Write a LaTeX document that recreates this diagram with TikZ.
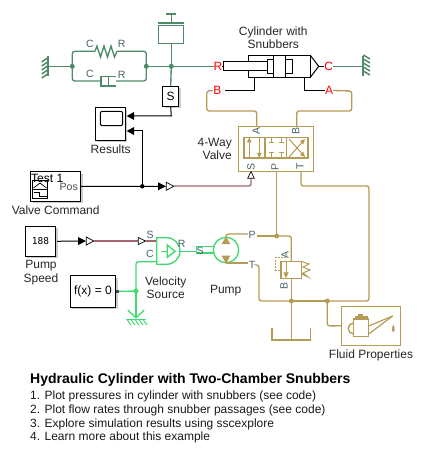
\documentclass[tikz,border=0pt]{standalone}
\usepackage{fontspec}
\setmainfont{Liberation Sans}
\setmonofont{DejaVu Sans Mono}
\usetikzlibrary{shadows,arrows.meta}
\definecolor{mechgreen}{HTML}{4F8A69}
\definecolor{oiltan}{HTML}{B59C55}
\definecolor{rotgreen}{HTML}{3FDB70}
\definecolor{physred}{HTML}{A5656F}
\definecolor{porttext}{HTML}{46626A}
\tikzset{
  block/.style={draw=black, fill=white, line width=1pt, inner sep=0pt, drop shadow={shadow xshift=1.8pt, shadow yshift=-1.8pt, opacity=0.4}},
  caption/.style={font=\fontsize{12}{13.4}\selectfont, align=center, text=black!85, inner sep=0pt},
  portlabel/.style={font=\fontsize{10.5}{12}\selectfont, text=porttext, inner sep=0pt},
  redlabel/.style={font=\fontsize{12}{14}\selectfont, text=red, inner sep=0pt},
  mech/.style={draw=mechgreen, line width=1.35pt, rounded corners=2.5pt},
  oil/.style={draw=oiltan, line width=1.35pt, rounded corners=2.5pt},
  rot/.style={draw=rotgreen, line width=1.35pt, rounded corners=2.5pt},
  phys/.style={draw=physred, line width=1.3pt, rounded corners=2pt},
  signal/.style={draw=black, line width=1pt},
  listline/.style={font=\fontsize{12}{13}\selectfont, anchor=west, inner sep=0pt, text=black!90},
}
\begin{document}
\begin{tikzpicture}[x=1pt, y=-1pt]
    \useasboundingbox (0,0) rectangle (424,457);

    % Junctions
    \coordinate (jspringl) at (72.3,66.3);
    \coordinate (jspringr) at (146.3,66.3);
    \coordinate (jmass) at (171.3,66.3);
    \coordinate (jpos) at (142.3,186.3);
    \coordinate (jpress) at (276.7,236);
    \coordinate (jtank) at (291.3,301);
    \coordinate (jfluid) at (327.3,301);
    \coordinate (jref) at (136,291);
    \coordinate (wallleft) at (47.7,66.3);
    \coordinate (wallright) at (363.3,66.3);

    % Blocks
    \node[block, minimum width=16, minimum height=20, font=\fontsize{12}{14}\selectfont] (sensor) at (170.7,96.3) {S};
    \node[block, minimum width=30, minimum height=32.7] (results) at (110.3,123.7) {};
    \node[block, minimum width=50, minimum height=29.6] (command) at (55.7,186.5) {};
    \node[block, minimum width=30.4, minimum height=30, font=\ttfamily\fontsize{9.5}{11}\selectfont] (speed) at (40.5,241.3) {188};
    \node[block, minimum width=45.4, minimum height=31.6, font=\fontsize{12}{14}\selectfont] (solver) at (93,291.5) {f(x) = 0};

    % Block captions
    \node[caption] (resultstext) at (110.7,149.7) {Results};
    \node[caption] (commandtext) at (55.7,210.7) {Valve Command};
    \node[caption] (speedtext) at (41,272.7) {Pump\\Speed};
    \node[caption] (sourcetext) at (165.7,287.7) {Velocity\\Source};
    \node[caption] (pumptext) at (225.7,290.7) {Pump};
    \node[caption] (cyltext) at (273.3,37.5) {Cylinder with\\Snubbers};
    \node[caption, align=right, anchor=east] (valvetext) at (232,148.7) {4-Way\\Valve};
    \node[caption] (fluidtext) at (371,355.7) {Fluid Properties};

    % Scope screen
    \draw[black, line width=1pt, rounded corners=2pt] (100.3,111.3) rectangle (122.7,125.7);

    % Command block contents
    \node[inner sep=0pt, font=\fontsize{12}{14}\selectfont, anchor=west] (testtext) at (31,178.3) {Test 1};
    \node[portlabel, text=black!70, anchor=east] (postext) at (78,186.7) {Pos};
    \draw[black, line width=0.7pt] (32.3,180.7) rectangle (47.7,198.3);
    \draw[black, line width=0.7pt] (32.3,189.5) -- (47.7,189.5);
    \draw[black, line width=0.7pt] (33.5,188) -- (40,183) -- (46.5,188);
    \draw[black, line width=0.7pt] (33.5,192) -- (39,192) -- (39,196.5) -- (46.5,196.5);

    % Mechanical network, left part
    \draw[mech] (wallleft) -- (jspringl);
    \draw[mech] (jspringl) -- (72.3,51.3) -- (95,51.3);
    \draw[mech] (117,51.3) -- (146.3,51.3) -- (jspringr);
    \draw[mech] (jspringl) -- (72.3,81) -- (101,81);
    \draw[mech] (116,81) -- (146.3,81) -- (jspringr);
    \draw[mech] (jspringr) -- (jmass);
    \draw[mech] (jmass) -- (214,66.3);
    \draw[mech] (jmass) -- (sensor.north);
    \draw[mech, rounded corners=0pt] (95,51.3) -- (97,46) -- (100.5,57) -- (104,46) -- (107.5,57) -- (111,46) -- (114.5,57) -- (117,51.3);
    \draw[mech, rounded corners=0pt] (116,76.3) -- (101,76.3) -- (101,86) -- (116,86);
    \draw[mech, rounded corners=0pt] (108.3,76.3) -- (108.3,86);

    % Mass
    \draw[mech, rounded corners=0pt] (158.3,25.3) rectangle (183.7,43.7);
    \draw[mech, rounded corners=0pt] (158.3,23) -- (183.7,23);
    \draw[mech, rounded corners=0pt] (171.3,23) -- (171.3,14);
    \draw[mech, rounded corners=0pt] (166,14) -- (176,14);
    \draw[mech] (171.3,43.7) -- (jmass);

    % Walls
    \draw[mech, rounded corners=0pt, line width=1.8pt] (47.7,56) -- (47.7,76);
    \draw[mech, rounded corners=0pt, line width=1.8pt] (363.3,56) -- (363.3,76);
    \foreach \y in {58,62,66,70,74} {
        \draw[mechgreen, line width=1.5pt] (47.7,\y) -- (41.7,\y+4);
        \draw[mechgreen, line width=1.5pt] (363.3,\y-3) -- (370,\y+1);
    }
    \draw[mech] (333,66.3) -- (wallright);

    % Labels of the spring and the damper
    \foreach \x/\y/\t in {90/44/C, 121.7/44/R, 90/74/C, 121.7/75/R} {
        \node[portlabel] at (\x,\y) {\t};
    }

    % Cylinder
    \draw[black, line width=1pt] (248.3,55.3) rectangle (310.3,77.3);
    \draw[black, line width=1pt, fill=white] (223.3,61.7) rectangle (267.3,70.7);
    \draw[black, line width=1pt, fill=white] (267.3,59.3) rectangle (273.3,73.3);
    \draw[black, line width=1pt, fill=white] (273.3,55.3) rectangle (285.3,77.3);
    \draw[black, line width=1pt] (285.3,59.3) rectangle (292.7,73.3);
    \draw[black, line width=1pt] (310.3,55.3) -- (318.7,66.3) -- (310.3,77.3);
    \draw[black, line width=1pt] (214,66.3) -- (223.3,66.3);
    \draw[black, line width=1pt] (318.7,66.3) -- (325,66.3);
    \draw[black, line width=1pt] (254.3,77.3) -- (254.3,91) -- (225,91);
    \draw[black, line width=1pt] (304.3,77.3) -- (304.3,91) -- (325,91);
    \node[redlabel, fill=white] (cylr) at (218,66.3) {R};
    \node[redlabel, fill=white] (cylc) at (328.7,66.3) {C};
    \node[redlabel, fill=white] (cylb) at (217.3,90.5) {B};
    \node[redlabel, fill=white] (cyla) at (329,90.5) {A};

    % Hydraulic lines between cylinder and valve
    \draw[oil] (cylb.west) -- (206.7,91) -- (206.7,111) -- (256.7,111) -- (256.7,126.3);
    \draw[oil] (cyla.east) -- (351.7,91) -- (351.7,111) -- (296.7,111) -- (296.7,126.3);

    % Valve
    \draw[oiltan, line width=1pt] (238.3,126.3) rectangle (313.7,171);
    \draw[oiltan, line width=1.35pt] (244,137.3) rectangle (308,158);
    \draw[oiltan, line width=1.35pt] (265,137.3) -- (265,158);
    \draw[oiltan, line width=1.35pt] (286.7,137.3) -- (286.7,158);
    \draw[oiltan, line width=1pt, -{Triangle[length=5pt,width=4.5pt]}] (249.3,158) -- (249.3,137.3);
    \draw[oiltan, line width=1pt, -{Triangle[length=5pt,width=4.5pt]}] (259.3,137.3) -- (259.3,158);
    \foreach \x in {271.7,281.7} {
        \draw[oiltan, line width=1pt] (\x,137.3) -- (\x,143) (\x-2.5,143) -- (\x+2.5,143);
        \draw[oiltan, line width=1pt] (\x,158) -- (\x,153) (\x-2.5,153) -- (\x+2.5,153);
    }
    \draw[oiltan, line width=1pt, -{Triangle[length=5pt,width=4.5pt]}] (289,157) -- (305,139);
    \draw[oiltan, line width=1pt, -{Triangle[length=5pt,width=4.5pt]}] (289,139) -- (305,157);
    \foreach \x/\y/\t in {256.3/130.5/A, 295.7/130.5/B, 251/166.5/S, 275/166.5/P, 300/166.5/T} {
        \node[portlabel, rotate=90] at (\x,\y) {\t};
    }

    % Valve ports to the supply
    \draw[oil] (276.7,171) -- (jpress);
    \draw[oil] (301,171) -- (301,186) -- (369,186) -- (369,301) -- (jfluid);
    \draw[oil] (jfluid) -- (jtank);
    \draw[oil] (jtank) -- (259,301) -- (259,265) -- (257,265);
    \draw[oil] (jpress) -- (291.3,236) -- (291.3,261.3);
    \draw[oil] (257,236) -- (jpress);

    % Relief valve
    \draw[oil, rounded corners=0pt] (281,261.3) rectangle (301.7,278.3);
    \draw[oiltan, line width=1pt, -{Triangle[length=6pt,width=5pt]}] (286,261.3) -- (286,278.3);
    \draw[oiltan, line width=0.9pt, dash pattern=on 2pt off 1.2pt] (286,257) -- (275.7,257) -- (275.7,270) -- (281,270);
    \draw[oiltan, line width=1pt] (301.7,261.5) -- (309,264) -- (303,267) -- (310,270) -- (303,273) -- (308,277) -- (301.7,274);
    \draw[oil] (291.3,278.3) -- (jtank);
    \node[portlabel, rotate=90] (reliefa) at (285,255) {A};
    \node[portlabel, rotate=90] (reliefb) at (284,286) {B};

    % Tank
    \draw[oil] (jtank) -- (291.3,340);
    \draw[oil, rounded corners=0pt] (272,328.3) -- (272,340) -- (310.3,340) -- (310.3,328.3);

    % Fluid properties
    \node[draw=oiltan, line width=1pt, minimum width=59.4, minimum height=38.7, inner sep=0pt] (fluid) at (371,325.7) {};
    \draw[oil] (jfluid) -- (327.3,326) -- (fluid.west);
    \draw[oiltan, line width=1.4pt] (353.7,319) rectangle (368.7,336.7);
    \draw[oiltan, line width=1.4pt] (356,319) -- (356,317) -- (367,317) -- (367,319);
    \fill[oiltan] (358,314) rectangle (363,317.5);
    \draw[oiltan, line width=1.4pt] (353.7,323) arc[start angle=-90, end angle=-270, radius=5.5];
    \draw[oiltan, line width=1.2pt] (368.7,326) -- (392.7,316);
    \draw[oiltan, line width=1.2pt] (368.7,334) -- (392.7,316);
    \fill[oiltan] (393.3,329.5) ellipse (1.3 and 2.5);
    \fill[oiltan] (393.3,324.5) -- (392,328) -- (394.6,328) -- cycle;

    % Signals
    \draw[signal] (sensor.south) -- (171.3,116) -- (134,116);
    \draw[signal] (command.east) -- (158,186.3);
    \draw[signal] (jpos) -- (142.3,131) -- (134,131);
    \draw[signal] (speed.east) ++(1,0) -- (78,241);
    \fill[black] (126.7,116) -- (134,112) -- (134,120) -- cycle;
    \fill[black] (126.7,131) -- (134,127) -- (134,135) -- cycle;
    \foreach \x/\y in {158/186.3, 78/241} {
        \fill[black, shift={(\x,\y)}] (0,-4) -- (8,0) -- (0,4) -- cycle;
        \draw[black, fill=white, line width=0.7pt, shift={(\x+8.3,\y)}] (0,-4) -- (7.5,0) -- (0,4) -- cycle;
    }

    % Physical signal lines
    \draw[phys] (174,186) -- (251,186) -- (251,178.3);
    \draw[black, fill=white, line width=0.7pt] (251,171.7) -- (247.7,178.3) -- (254.3,178.3) -- cycle;
    \draw[phys] (94,241) -- (138.3,241);
    \draw[black, fill=white, line width=0.7pt] (138.3,237.5) -- (145.5,241) -- (138.3,244.5) -- cycle;
    \draw[phys] (145.5,241) -- (156.7,241);

    % Velocity source
    \draw[rot, rounded corners=0pt, fill=white] (156.7,237.7) -- (166.7,237.7) arc[start angle=-90, end angle=90, radius=13.3] -- (156.7,264.3) -- cycle;
    \draw[rot, rounded corners=0pt] (167.3,245) -- (175,251.3) -- (167.3,257.3) -- cycle;
    \draw[rot, rounded corners=0pt] (160.7,251.3) -- (167.3,251.3);
    \node[portlabel] (sourcer) at (181.7,244.3) {R};
    \node[portlabel] (sources) at (150,234.7) {S};
    \node[portlabel] (sourcec) at (150,254.3) {C};
    \draw[rot] (156.7,261.7) -- (136,261.7) -- (jref);
    \draw[rot] (jref) -- (136,318);
    \draw[rot] (solver.east) -- (jref);
    \fill[black!70] (115.7,289.5) rectangle (118.7,292.5);

    % Rotational reference
    \draw[rotgreen, line width=1.4pt] (128,310) .. controls (131,314) and (134,315) .. (136,318);
    \draw[rotgreen, line width=1.4pt] (144,310) .. controls (141,314) and (138,315) .. (136,318);
    \draw[rotgreen, line width=1.2pt] (126,319.5) -- (146,319.5);
    \foreach \x in {127,131,135,139,143} {
        \draw[rotgreen, line width=1pt] (\x,319.5) -- (\x+4,325);
    }

    % Pump
    \draw[rot, rounded corners=0pt] (180,251.3) -- (196.7,251.3);
    \draw[rot, rounded corners=0pt] (196.7,246.7) rectangle (213.8,253);
    \draw[rot, rounded corners=0pt, fill=white] (226,250) circle (12.7);
    \node[portlabel, text=porttext] (pumps) at (200,250.5) {S};
    \fill[oiltan] (226,236.7) -- (230.3,244) -- (221.7,244) -- cycle;
    \fill[oiltan] (226,263.7) -- (230.3,255.7) -- (221.7,255.7) -- cycle;
    \draw[oil] (226,237) -- (226,234) -- (248,234);
    \draw[oil] (226,263) -- (248,263);
    \node[portlabel] (pumpp) at (252,235) {P};
    \node[portlabel] (pumpt) at (252,265) {T};

    % Junction dots
    \foreach \c in {jspringl, jspringr, jmass} {
        \fill[mechgreen] (\c) circle (2.5);
    }
    \foreach \c in {jpress, jtank, jfluid} {
        \fill[oiltan] (\c) circle (2.5);
    }
    \fill[rotgreen] (jref) circle (2.5);
    \fill[black] (jpos) circle (2.2);

    % Description
    \node[anchor=west, inner sep=0pt, font=\bfseries\fontsize{14}{16}\selectfont] (title) at (30,380) {Hydraulic Cylinder with Two-Chamber Snubbers};
    \node[listline] (item1) at (30,396) {1. Plot pressures in cylinder with snubbers (see code)};
    \node[listline] (item2) at (30,410) {2. Plot flow rates through snubber passages (see code)};
    \node[listline] (item3) at (30,424) {3. Explore simulation results using sscexplore};
    \node[listline] (item4) at (30,437) {4. Learn more about this example};

\end{tikzpicture}
\end{document}
